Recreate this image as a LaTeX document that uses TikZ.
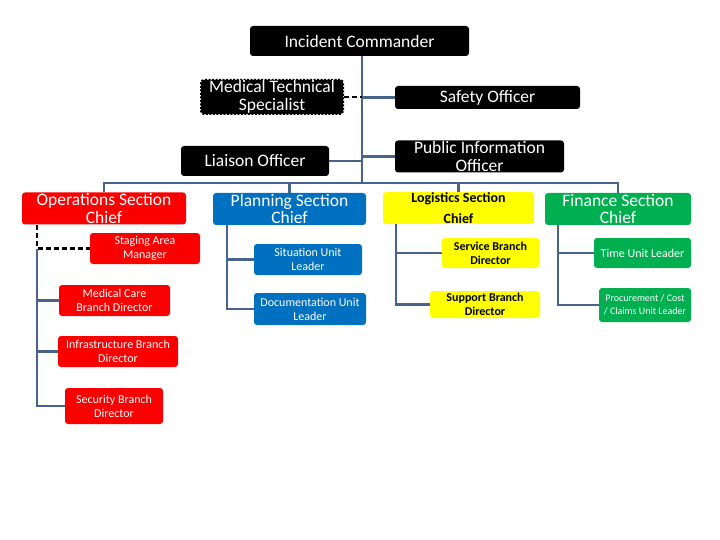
\documentclass[tikz,border=0pt]{standalone}
\usepackage{fontspec}
\setmainfont{Carlito}
\definecolor{ln}{RGB}{70,100,140}
\definecolor{cred}{RGB}{250,0,0}
\definecolor{cblue}{RGB}{0,112,192}
\definecolor{cyel}{RGB}{255,255,0}
\definecolor{cgreen}{RGB}{0,176,80}
\tikzset{
  box/.style={rounded corners=3pt, align=center, inner sep=0pt, anchor=center},
  big/.style={box, text=white, font=\fontsize{17.5}{17.5}\selectfont},
  small/.style={box, text=white, font=\fontsize{12}{14}\selectfont},
  blk/.style={big, fill=black},
  conn/.style={draw=ln, line width=2.8pt},
  dconn/.style={draw=black, line width=2.2pt, dash pattern=on 5pt off 3pt},
}
\begin{document}
\begin{tikzpicture}[x=1pt,y=-1pt]
\useasboundingbox (0,0) rectangle (720,540);
% top level
\node[blk, minimum width=219, minimum height=30] (ic) at (359.5,41) {Incident Commander};
\node[blk, draw=black, line width=2pt, dash pattern=on 2pt off 1.5pt, minimum width=142, minimum height=34] (mts) at (272,97) {Medical Technical\\Specialist};
\node[blk, minimum width=185, minimum height=23] (so) at (487.5,97.5) {Safety Officer};
\node[blk, minimum width=148, minimum height=30] (lo) at (255,161) {Liaison Officer};
\node[blk, minimum width=169, minimum height=32] (pio) at (479.5,156.5) {Public Information\\Officer};
% section chiefs
\node[big, fill=cred, minimum width=164, minimum height=32] (ops) at (104,208.5) {Operations Section\\Chief};
\node[big, fill=cblue, minimum width=153, minimum height=32] (plan) at (289.5,209) {Planning Section\\Chief};
\node[box, fill=cyel, text=black, font=\bfseries\fontsize{14}{21}\selectfont, minimum width=151, minimum height=32] (log) at (458.5,208) {Logistics Section\\Chief};
\node[big, fill=cgreen, minimum width=146, minimum height=32] (fin) at (618,209) {Finance Section\\Chief};
% operations
\node[small, fill=cred, minimum width=110, minimum height=31] (sam) at (145,248.5) {Staging Area\\Manager};
\node[small, fill=cred, minimum width=111, minimum height=31] (mcb) at (114.5,300.5) {Medical Care\\Branch Director};
\node[small, fill=cred, minimum width=120, minimum height=31] (ibd) at (118,351.5) {Infrastructure Branch\\Director};
\node[small, fill=cred, minimum width=98, minimum height=36] (sbd) at (114,406) {Security Branch\\Director};
% planning
\node[small, fill=cblue, minimum width=108, minimum height=31] (sul) at (308,259.5) {Situation Unit\\Leader};
\node[small, fill=cblue, minimum width=112, minimum height=32] (dul) at (310,309) {Documentation Unit\\Leader};
% logistics
\node[small, fill=cyel, text=black, font=\bfseries\fontsize{12}{14}\selectfont, minimum width=97, minimum height=30] (svc) at (490.5,253) {Service Branch\\Director};
\node[small, fill=cyel, text=black, font=\bfseries\fontsize{12}{14}\selectfont, minimum width=110, minimum height=27] (sup) at (485,304.5) {Support Branch\\Director};
% finance
\node[small, fill=cgreen, minimum width=97, minimum height=30] (tul) at (642.5,253) {Time Unit Leader};
\node[small, fill=cgreen, font=\fontsize{10}{13}\selectfont, minimum width=92, minimum height=34] (pcc) at (645,305) {Procurement / Cost\\/ Claims Unit Leader};
% coordinates
\coordinate (t0) at (362,183);
\coordinate (ov) at (37,225);
\coordinate (pv) at (227,225);
\coordinate (lv) at (396,224);
\coordinate (fv) at (558,225);
% trunk and staff
\draw[conn] (ic.south -| t0) -- (t0);
\draw[dconn] (mts.east) -- (mts.east -| t0);
\draw[conn] (so.west -| t0) -- (so.west);
\draw[conn] (lo.east) -- (lo.east -| t0);
\draw[conn] (pio.west -| t0) -- (pio.west);
% bar
\draw[conn] (ops.north) -- (ops.north |- t0) -- (fin.north |- t0) -- (fin.north);
\draw[conn] (plan.north |- t0) -- (plan.north);
\draw[conn] (log.north |- t0) -- (log.north);
% operations branches
\draw[dconn] (ov) -- (ov |- sam.west) -- (sam.west);
\draw[conn] (ov |- sam.west) -- (ov |- sbd.west) -- (sbd.west);
\draw[conn] (ov |- mcb.west) -- (mcb.west);
\draw[conn] (ov |- ibd.west) -- (ibd.west);
% planning
\draw[conn] (pv) -- (pv |- dul.west) -- (dul.west);
\draw[conn] (pv |- sul.west) -- (sul.west);
% logistics
\draw[conn] (lv) -- (lv |- sup.west) -- (sup.west);
\draw[conn] (lv |- svc.west) -- (svc.west);
% finance
\draw[conn] (fv) -- (fv |- pcc.west) -- (pcc.west);
\draw[conn] (fv |- tul.west) -- (tul.west);
\end{tikzpicture}
\end{document}
